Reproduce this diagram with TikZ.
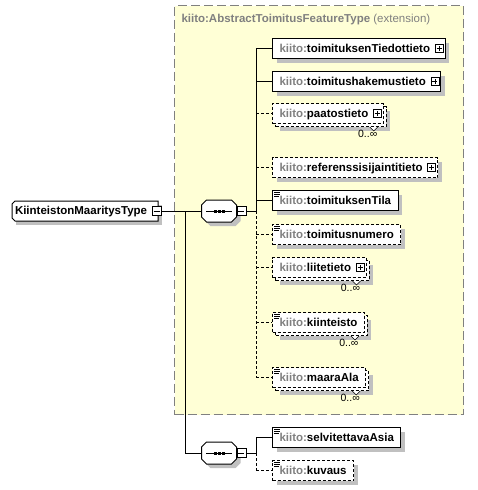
\documentclass[tikz,border=0pt]{standalone}
\usepackage{fontspec}
\setmainfont{Liberation Sans}
\usepackage{tikz}
\usetikzlibrary{shadows,positioning}
\definecolor{extyellow}{RGB}{255,255,214}
\definecolor{extborder}{RGB}{128,128,128}
\definecolor{pfxgray}{RGB}{128,128,128}
\definecolor{shadowgray}{RGB}{192,192,192}
\newcommand{\kt}[1]{{\color{pfxgray}kiito:}#1}
\tikzset{
  extbox/.style={draw=extborder,fill=extyellow,dash pattern=on 9pt off 4pt,anchor=north west,inner sep=0},
  ttl/.style={anchor=west,inner sep=0,text=pfxgray,font=\fontsize{11.5}{13}\selectfont\bfseries},
  elbox/.style={draw,fill=white,anchor=north west,minimum height=20,inner xsep=7,inner ysep=0,
    text height=9,text depth=2,font=\fontsize{11.5}{13}\selectfont\bfseries},
  onebox/.style={elbox,general shadow={fill=shadowgray,shadow xshift=4pt,shadow yshift=-4pt}},
  optline/.style={dash pattern=on 3pt off 2pt},
  manybox/.style={elbox,optline,general shadow={fill=shadowgray,shadow xshift=7pt,shadow yshift=-7pt},
    general shadow={draw=black,fill=white,shadow xshift=3pt,shadow yshift=-3pt}},
  simplemark/.style={path picture={
    \foreach \k/\w in {2/6,4/6,6/5}
      \draw[solid,line width=.8pt]([shift={(1.5,\k)}]path picture bounding box.north west)--++(\w,0);}},
  plusbox/.style={draw,solid,fill=white,line width=.8pt,minimum size=8,inner sep=0,
    path picture={\draw[line width=.8pt]([xshift=1.5pt]path picture bounding box.west)--([xshift=-1.5pt]path picture bounding box.east)
      ([yshift=1.5pt]path picture bounding box.south)--([yshift=-1.5pt]path picture bounding box.north);}},
  minusbox/.style={draw,solid,fill=white,line width=.8pt,minimum size=9,inner sep=0,
    path picture={\draw[line width=.8pt]([xshift=1.5pt]path picture bounding box.west)--([xshift=-1.5pt]path picture bounding box.east);}},
  plusmark/.style={execute at end node={\hspace*{8pt}},label={[plusbox,anchor=east,xshift=-2pt]0:{}}},
  seqbox/.style={minimum width=34,minimum height=21,inner sep=0,
    append after command={\pgfextra{
      \draw[fill=white,general shadow={fill=shadowgray,shadow xshift=4pt,shadow yshift=-4pt}]
        ([xshift=5pt]\tikzlastnode.north west)--([xshift=-5pt]\tikzlastnode.north east)
        --([yshift=-5pt]\tikzlastnode.north east)--([yshift=5pt]\tikzlastnode.south east)
        --([xshift=-5pt]\tikzlastnode.south east)--([xshift=5pt]\tikzlastnode.south west)
        --([yshift=5pt]\tikzlastnode.south west)--([yshift=-5pt]\tikzlastnode.north west)--cycle;
      \draw([xshift=-13pt]\tikzlastnode.center)--([xshift=13pt]\tikzlastnode.center);
      \foreach \d in {-4,0,4}\fill([xshift=\d pt]\tikzlastnode.center)+(-1.5,-1.5)rectangle+(1.5,1.5);
    }}},
  ctype/.style={fill=white,anchor=west,outer sep=0,minimum height=20,inner xsep=3,inner ysep=0,
    text height=9,text depth=2,execute at end node={\hspace*{8pt}},font=\fontsize{11.5}{13}\selectfont\bfseries,
    general shadow={fill=shadowgray,shadow xshift=4pt,shadow yshift=-4pt}},
  occ/.style={anchor=north east,inner sep=0,font=\fontsize{10.5}{12}\selectfont}
}
\begin{document}
\begin{tikzpicture}[x=1pt,y=-1pt,line width=1pt]
\useasboundingbox(0,0)rectangle(478,490);
%extension area
\node[extbox,minimum width=289,minimum height=409](ext)at(174,5){};
\node[ttl](ttl)at(181,20){kiito:AbstractToimitusFeatureType {\mdseries(extension)}};
%complex type
\node[ctype](kmt)at(12,211){KiinteistonMaaritysType};
\draw([xshift=3pt]kmt.north west)--(kmt.north east)--(kmt.south east)--([xshift=3pt]kmt.south west)
--([yshift=3pt]kmt.south west)--([yshift=-3pt]kmt.north west)--cycle;
\node[minusbox](kmtm)at([xshift=-1.5pt]kmt.east){};
%sequences
\node[seqbox,label={[minusbox,anchor=west,name=seqAm]0:{}}](seqA)at(219,211){};
\node[seqbox,label={[minusbox,anchor=west,name=seqBm]0:{}}](seqB)at(219,453){};
%elements
\node[onebox,plusmark](tiedot)at(272,38){\kt{toimituksenTiedottieto}};
\node[onebox,plusmark](hakemus)at(272,71){\kt{toimitushakemustieto}};
\node[manybox,plusmark](paatos)at(272,103){\kt{paatostieto}};
\node[onebox,optline,plusmark](referenssi)at(272,157){\kt{referenssisijaintitieto}};
\node[onebox,simplemark](tila)at(272,190){\kt{toimituksenTila}};
\node[onebox,optline,simplemark](numero)at(272,224){\kt{toimitusnumero}};
\node[manybox,plusmark](liite)at(272,257){\kt{liitetieto}};
\node[manybox,simplemark](kiinteisto)at(272,312){\kt{kiinteisto}};
\node[manybox,simplemark](maara)at(272,367){\kt{maaraAla}};
\node[onebox,simplemark](asia)at(272,427){\kt{selvitettavaAsia}};
\node[onebox,optline,simplemark](kuvaus)at(272,460){\kt{kuvaus}};
%occurrences
\foreach \n in {paatos,liite,kiinteisto,maara}{
\draw[fill=white,line width=.6pt]([shift={(-14,3)}]\n.south east)--++(4,4)--++(4,-4);
\node[occ](occ\n)at([shift={(-6,6)}]\n.south east){0..∞};
}
%connectors
\draw(kmtm.east)--(seqA.west);
\draw([xshift=24pt]kmtm.east)|-(seqB.west);
\coordinate(hubA)at([xshift=10pt]seqAm.east);
\coordinate(hubB)at([xshift=10pt]seqBm.east);
\draw(seqAm.east)--(hubA);
\draw(hubA|-tiedot.west)--(hubA);
\draw[optline](hubA)--(hubA|-maara.west);
\foreach \n in {tiedot,hakemus,tila}{
\draw(hubA|-\n.west)--(\n.west);
}
\foreach \n in {paatos,referenssi,numero,liite,kiinteisto,maara}{
\draw[optline](hubA|-\n.west)--(\n.west);
}
\draw(seqBm.east)--(hubB);
\draw(hubB|-asia.west)--(hubB);
\draw[optline](hubB)--(hubB|-kuvaus.west);
\draw(hubB|-asia.west)--(asia.west);
\draw[optline](hubB|-kuvaus.west)--(kuvaus.west);
\end{tikzpicture}
\end{document}
